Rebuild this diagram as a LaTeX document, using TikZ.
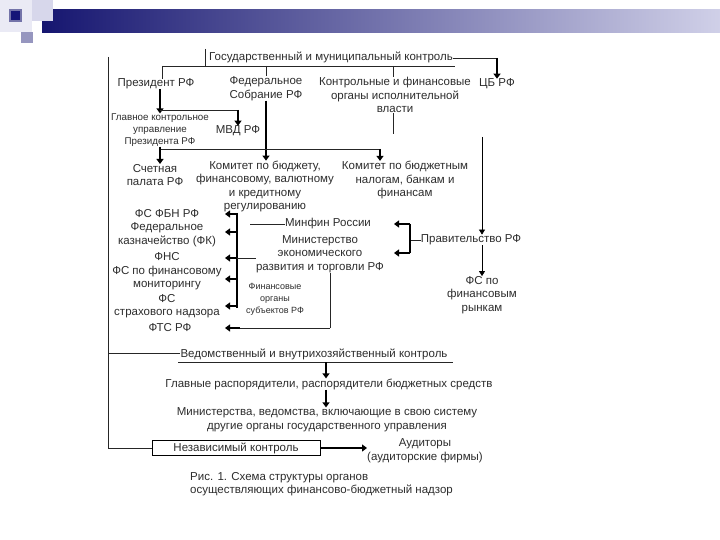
\documentclass[tikz,border=0pt]{standalone}
\usepackage{fontspec}
\setmainfont{Liberation Sans}
\usetikzlibrary{arrows.meta,calc}
\definecolor{txtc}{RGB}{45,45,45}
\definecolor{navyc}{RGB}{22,22,112}
\definecolor{lavc}{RGB}{208,208,232}
\begin{document}
\begin{tikzpicture}[x=1pt,y=-1pt,
  lbl/.style={font=\fontsize{11.5}{13.5}\selectfont, text=txtc, align=center, inner sep=0pt},
  thinln/.style={line width=0.7pt, draw=black!85},
  thickln/.style={line width=1.8pt, draw=black},
  tarr/.style={line width=1.8pt, draw=black, -{Triangle[length=5pt,width=7pt]}},
  narr/.style={line width=0.7pt, draw=black, -{Triangle[length=5pt,width=6pt]}},
]
\useasboundingbox (0,0) rectangle (720,540);
\fill[white] (0,0) rectangle (720,540);
% banner
\fill[lavc!45] (0,0) rectangle (32,32);
\shade[left color=navyc, right color=lavc] (42,10) rectangle (720,33);
\fill[lavc!85] (32,0) rectangle (53,21);
\fill[navyc!45] (21,32) rectangle (33,43);
\fill[navyc!60] (9,9) rectangle (22,22);
\fill[navyc!95!blue] (11,11) rectangle (20,20);

% nodes
\node[lbl] (ttl) at (331,57) {Государственный и муниципальный контроль};
\node[lbl] (prez) at (156,84) {Президент РФ};
\node[lbl] (fs) at (266,88.5) {Федеральное\\Собрание РФ};
\node[lbl] (kfo) at (395,95) {Контрольные и финансовые\\органы исполнительной\\власти};
\node[lbl] (cb) at (497,84) {ЦБ РФ};
\node[lbl, font=\fontsize{9.8}{12}\selectfont] (gku) at (160,130) {Главное контрольное\\управление\\Президента РФ};
\node[lbl] (mvd) at (238,131) {МВД РФ};
\node[lbl] (sp) at (155,175) {Счетная\\палата РФ};
\node[lbl] (kb) at (265,186.5) {Комитет по бюджету,\\финансовому, валютному\\и кредитному\\регулированию};
\node[lbl] (kbn) at (405,180) {Комитет по бюджетным\\налогам, банкам и\\финансам};
\node[lbl] (ffbn) at (167,214) {ФС ФБН РФ};
\node[lbl] (fk) at (167,234.5) {Федеральное\\казначейство (ФК)};
\node[lbl] (fns) at (167,257) {ФНС};
\node[lbl] (fsfm) at (167,278) {ФС по финансовому\\мониторингу};
\node[lbl] (fssn) at (167,306) {ФС\\страхового надзора};
\node[lbl] (fts) at (170,328) {ФТС РФ};
\node[lbl] (minfin) at (328,224) {Минфин России};
\node[lbl] (mert) at (320,254) {Министерство\\экономического\\развития и торговли РФ};
\node[lbl, font=\fontsize{9}{12}\selectfont] (fos) at (275,299) {Финансовые\\органы\\субъектов РФ};
\node[lbl] (prav) at (471,240) {Правительство РФ};
\node[lbl] (fsfr) at (482,295) {ФС по\\финансовым\\рынкам};
\node[lbl] (ved) at (314,354) {Ведомственный и внутрихозяйственный контроль};
\node[lbl] (glav) at (329,384) {Главные распорядители, распорядители бюджетных средств};
\node[lbl] (mins) at (327,419.5) {Министерства, ведомства, включающие в свою систему\\другие органы государственного управления};
\node[lbl, draw=black, line width=0.8pt, minimum width=168pt, minimum height=15pt] (nez) at (236,448) {Независимый контроль};
\node[lbl] (aud) at (425,450.5) {Аудиторы\\(аудиторские фирмы)};
\node[lbl, align=left, anchor=west] (cap) at (190,484) {Рис. 1. Схема структуры органов\\осуществляющих финансово-бюджетный надзор};

% junction coordinates
\coordinate (tl) at (205,49);
\coordinate (ul1) at (162,66);
\coordinate (ul2) at (455,66);
\coordinate (cbj) at (497,58);
\coordinate (pj) at (160,110);
\coordinate (mj) at (238,110);
\coordinate (sj) at (160,149);
\coordinate (kj) at (380,149);
\coordinate (rv) at (482,137);
\coordinate (pb) at (410,240);
\coordinate (pbt) at (410,224);
\coordinate (pbb) at (410,253);
\coordinate (lbt) at (237,213);
\coordinate (lbb) at (237,308);
\coordinate (mj2) at (330,328);
\coordinate (lv) at (108,57);
\coordinate (lvb) at (108,448);
\coordinate (lvm) at (108,353);
\coordinate (vu1) at (178,362);
\coordinate (vu2) at (453,362);

% top title
\draw[thinln] (tl) -- (205,66);
\draw[thinln] (ul1) -- (ul2);
\draw[thinln] (ul1) -- (prez.north -| ul1);
\draw[thinln] (266,66) -- (fs.north);
\draw[thinln] (393,66) -- (393,77);
\draw[thinln] (ttl.east |- cbj) -- (cbj);
\draw[tarr] (cbj) -- (cb.north);

% president
\draw[tarr] (prez.south -| pj) -- (gku.north -| pj);
\draw[thinln] (pj) -- (mj);
\draw[tarr] (mj) -- (mvd.north);
% federal assembly
\draw[tarr] (fs.south) -- (kb.north -| fs.south);
\draw[thinln] (393,113) -- (393,134);
\draw[thinln] (sj) -- (kj);
\draw[tarr] (gku.south -| sj) -- (sp.north -| sj);
\draw[tarr] (kj) -- (kbn.north -| kj);

% government
\draw[narr] (rv) -- (prav.north -| rv);
\draw[thinln] (prav.west) -- (pb);
\draw[thickln] (pbt) -- (pbb);
\draw[tarr] (pbt) -- (394,224);
\draw[tarr] (pbb) -- (394,253);
\draw[narr] (prav.south -| rv) -- (fsfr.north -| rv);

% minfin bracket
\draw[thinln] (250,224) -- (minfin.west);
\draw[thickln] (lbt) -- (lbb);
\draw[tarr] (237,214) -- (225,214);
\draw[tarr] (237,232) -- (225,232);
\draw[tarr] (237,258) -- (225,258);
\draw[tarr] (237,279) -- (225,279);
\draw[tarr] (237,306) -- (225,306);
\draw[thinln] (237,258) -- (mert.west |- 0,258);
% MERT -> FTS
\draw[thinln] (mert.south -| mj2) -- (mj2);
\draw[thinln] (mj2) -- (238,328);
\draw[tarr] (240,328) -- (225,328);

% left spine
\draw[thinln] (lv) -- (lvb) -- (nez.west);
\draw[thinln] (lvm) -- (ved.west |- lvm);
\draw[thinln] (vu1) -- (vu2);
\draw[tarr] (326,362) -- (glav.north -| 326,0);
\draw[tarr] (glav.south -| 326,0) -- (mins.north -| 326,0);
\draw[tarr] (nez.east) -- (aud.west |- nez.east);
\end{tikzpicture}
\end{document}
